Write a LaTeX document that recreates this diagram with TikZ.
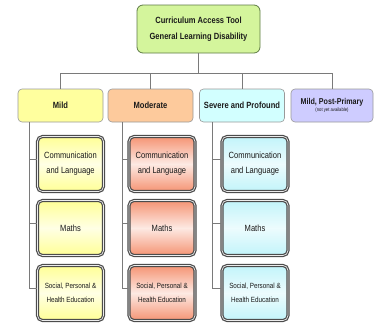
\documentclass[tikz,border=0pt]{standalone}
\usepackage{fontspec}
\setmainfont{Liberation Sans}[FakeStretch=0.84]
\usetikzlibrary{shadows}
\definecolor{topg}{HTML}{D4F59C}
\definecolor{topb}{HTML}{5E7A45}
\definecolor{mildc}{HTML}{FFFF9E}
\definecolor{modc}{HTML}{FDCA9C}
\definecolor{sevc}{HTML}{D2FFFF}
\definecolor{ppc}{HTML}{CECCFF}
\definecolor{lnc}{HTML}{7A7A7A}
\definecolor{txc}{HTML}{1A1A1A}
\definecolor{myel}{HTML}{FFFF96}
\definecolor{mored}{HTML}{F59474}
\definecolor{mcy}{HTML}{C2F4FA}
\begin{document}
\begin{tikzpicture}[x=1pt,y=-1pt,
  conn/.style={draw=lnc,line width=0.7pt},
  lvl/.style={draw=gray!80,line width=0.6pt,rounded corners=4pt,minimum width=85pt,minimum height=33pt,inner sep=1pt,align=center,text=txc,font=\bfseries\fontsize{9}{10}\selectfont},
  child/.style={rounded corners=5pt,minimum width=66pt,minimum height=55pt,inner sep=1pt,align=center,text=txc,
     draw=black!70,line width=1.2pt,double=white!85!gray,double distance=0.7pt,
     drop shadow={shadow xshift=1pt,shadow yshift=-1pt,opacity=0.25}},
  yel/.style={child,top color=myel,bottom color=myel,middle color=white!75!myel},
  ora/.style={child,top color=mored,bottom color=mored,middle color=white!80!mored},
  cya/.style={child,top color=mcy,bottom color=mcy,middle color=white!70!mcy},
  big/.style={font=\fontsize{9}{15}\selectfont},
  sml/.style={font=\fontsize{7.5}{14}\selectfont}]
\useasboundingbox (0,0) rectangle (374,324);
% top
\node[draw=topb,line width=0.8pt,fill=topg,rounded corners=6pt,minimum width=123pt,minimum height=48pt,align=center,text=txc,font=\bfseries\fontsize{9}{16}\selectfont] (top) at (198.5,29) {Curriculum Access Tool\\General Learning Disability};
% level 1
\node[lvl,fill=mildc] (mild) at (60.5,105.5) {Mild};
\node[lvl,fill=modc] (mod) at (150.5,105.5) {Moderate};
\node[lvl,fill=sevc] (sev) at (242,105.5) {Severe and Profound};
\node[lvl,fill=ppc,minimum width=82pt,font=\bfseries\fontsize{8.5}{10}\selectfont] (pp) at (332,105.5) {Mild, Post-Primary\\[-3pt]{\mdseries\fontsize{5}{6}\selectfont(not yet available)}};
% bus
\coordinate (bus) at (198.5,73.5);
\draw[conn] (top.south) -- (bus);
\draw[conn] (mild.north) |- (bus) -| (pp.north);
\draw[conn] (mod.north) -- (mod.north |- bus);
\draw[conn] (sev.north) -- (sev.north |- bus);
% children
\node[yel,big] (m1) at (70.5,164) {Communication\\and Language};
\node[yel,big] (m2) at (70.5,228) {Maths};
\node[yel,sml] (m3) at (70.5,293) {Social, Personal \&\\Health Education};
\node[ora,big] (o1) at (162,164) {Communication\\and Language};
\node[ora,big] (o2) at (162,228) {Maths};
\node[ora,sml] (o3) at (162,293) {Social, Personal \&\\Health Education};
\node[cya,big] (c1) at (255,164) {Communication\\and Language};
\node[cya,big] (c2) at (255,228) {Maths};
\node[cya,sml] (c3) at (255,293) {Social, Personal \&\\Health Education};
% trunks
\coordinate (tm) at (29,0);
\coordinate (to) at (122,0);
\coordinate (tc) at (212,0);
\draw[conn] (mild.south -| tm) |- ([yshift=5pt]m3.west);
\draw[conn] (mod.south -| to) |- ([yshift=5pt]o3.west);
\draw[conn] (sev.south -| tc) |- ([yshift=5pt]c3.west);
\draw[conn] (tm |- m1.west) ++(0,-5) -- ([yshift=5pt]m1.west);
\draw[conn] (tm |- m2.west) ++(0,-5) -- ([yshift=5pt]m2.west);
\draw[conn] (to |- o1.west) ++(0,-5) -- ([yshift=5pt]o1.west);
\draw[conn] (to |- o2.west) ++(0,-5) -- ([yshift=5pt]o2.west);
\draw[conn] (tc |- c1.west) ++(0,-5) -- ([yshift=5pt]c1.west);
\draw[conn] (tc |- c2.west) ++(0,-5) -- ([yshift=5pt]c2.west);
\end{tikzpicture}
\end{document}
